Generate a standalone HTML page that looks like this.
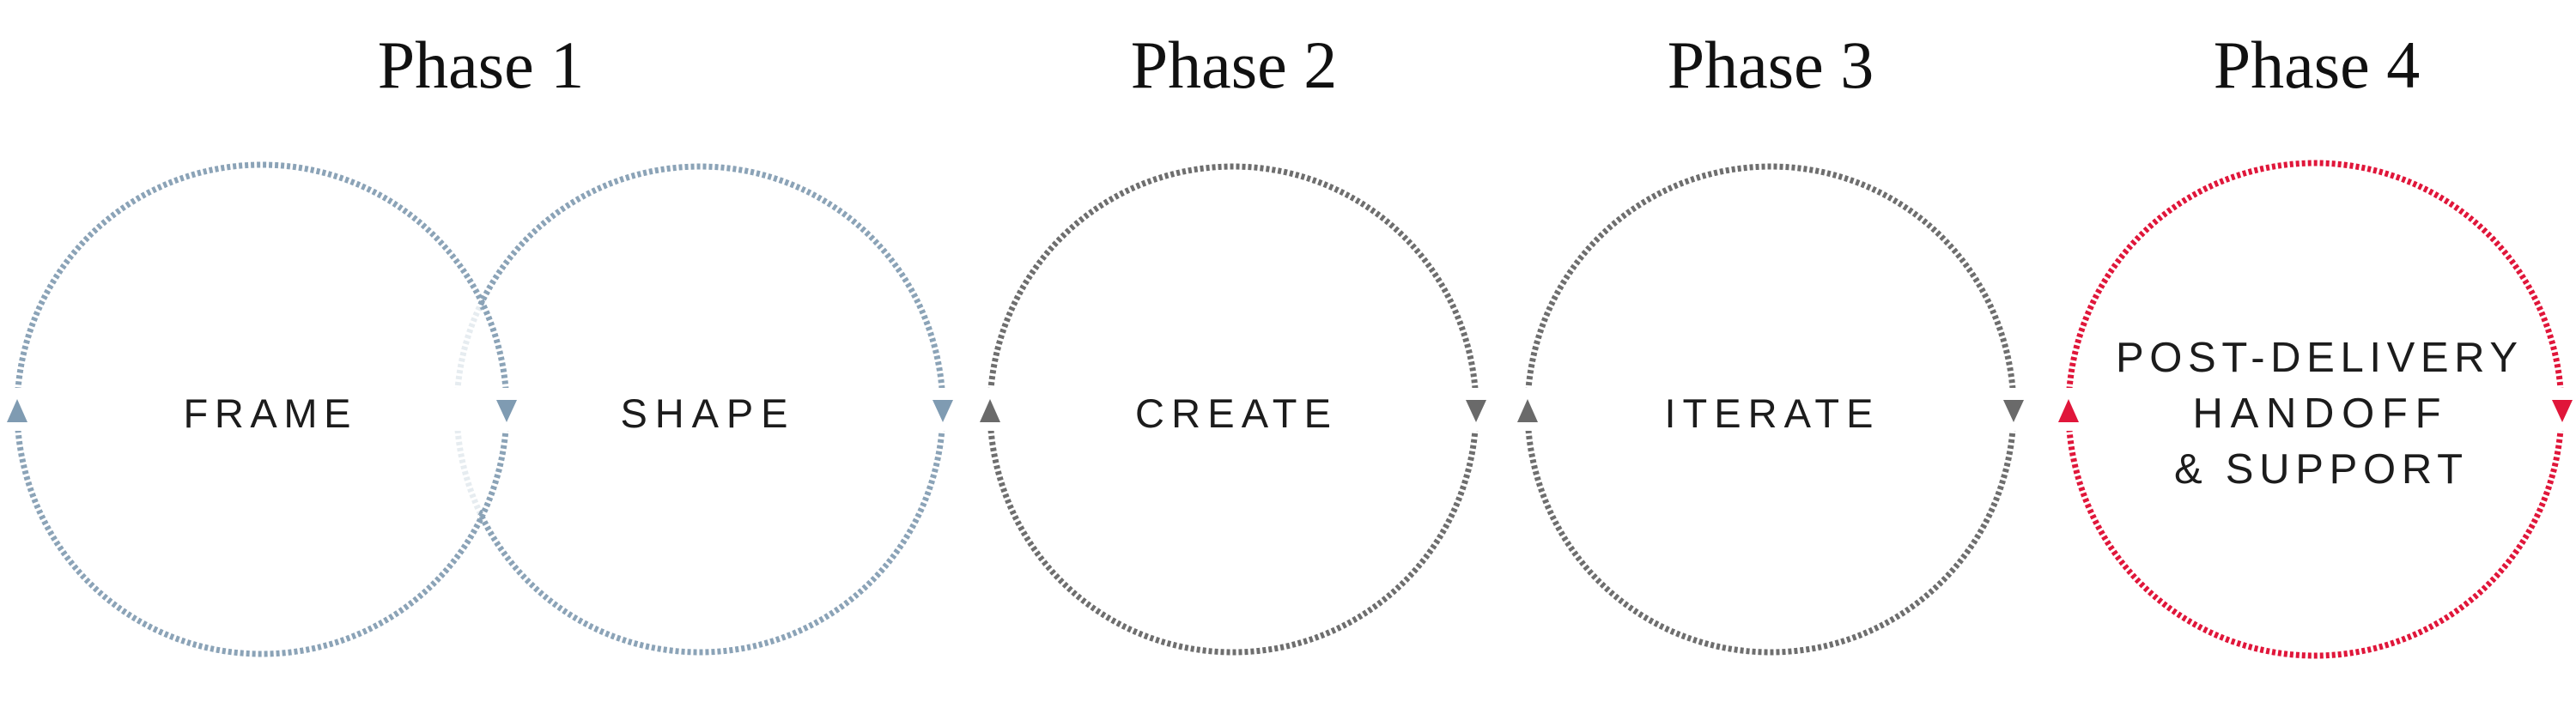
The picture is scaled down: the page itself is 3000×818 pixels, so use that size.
<!DOCTYPE html>
<html><head><meta charset="utf-8"><style>
html,body{margin:0;padding:0;background:#fff;width:3000px;height:818px;overflow:hidden}
svg{display:block}
.t{font-family:"Liberation Serif",serif;font-size:78px;fill:#111;text-anchor:middle}
.l{font-family:"Liberation Sans",sans-serif;font-size:47px;fill:#1c1c1c;text-anchor:middle}
.p{font-family:"Liberation Sans",sans-serif;font-size:49px;fill:#1c1c1c;text-anchor:middle}
</style></head><body>
<svg width="3000" height="818" viewBox="0 0 3000 818" xmlns="http://www.w3.org/2000/svg">
<defs>
<mask id="gaps">
<rect width="3000" height="818" fill="#fff"/>
<rect x="0" y="452" width="3000" height="50" fill="#000"/>
</mask>
<mask id="out1">
<rect width="3000" height="818" fill="#fff"/>
<circle cx="305" cy="477" r="280" fill="#000"/>
</mask>
<mask id="in1">
<circle cx="305" cy="477" r="280" fill="#fff"/>
</mask>
</defs>
<text class="t" x="560" y="102">Phase 1</text>
<text class="t" x="1437" y="102">Phase 2</text>
<text class="t" x="2062" y="102">Phase 3</text>
<text class="t" x="2698" y="102">Phase 4</text>
<g fill="none" stroke-width="7" stroke-dasharray="4 3" mask="url(#gaps)">
<circle cx="305" cy="477" r="285" stroke="#8ba3b7"/>
<g mask="url(#out1)"><circle cx="815" cy="477" r="283" stroke="#8ba3b7"/></g>
<g mask="url(#in1)"><circle cx="815" cy="477" r="283" stroke="#e6ecf0"/></g>
<circle cx="1436" cy="477" r="283" stroke="#6e6e6e"/>
<circle cx="2062" cy="477" r="283" stroke="#6e6e6e"/>
<circle cx="2696" cy="477" r="287" stroke="#e0163a"/>
</g>
<g>
<polygon points="20,465 8,492 32,492" fill="#7f9bb2"/>
<polygon points="578,466 602,466 590,492" fill="#7f9bb2"/>
<polygon points="1086,466 1110,466 1098,492" fill="#7f9bb2"/>
<polygon points="1153,465 1141,492 1165,492" fill="#6a6a6a"/>
<polygon points="1707,466 1731,466 1719,492" fill="#6a6a6a"/>
<polygon points="1779,465 1767,492 1791,492" fill="#6a6a6a"/>
<polygon points="2333,466 2357,466 2345,492" fill="#6a6a6a"/>
<polygon points="2409,465 2397,492 2421,492" fill="#e0163a"/>
<polygon points="2972,466 2996,466 2984,492" fill="#e0163a"/>
</g>
<text class="l" x="311" y="498" textLength="195" lengthAdjust="spacing">FRAME</text>
<text class="l" x="820" y="498" textLength="195" lengthAdjust="spacing">SHAPE</text>
<text class="l" x="1436" y="498" textLength="228" lengthAdjust="spacing">CREATE</text>
<text class="l" x="2060" y="498" textLength="243" lengthAdjust="spacing">ITERATE</text>
<text class="p" x="2698" y="433" textLength="468" lengthAdjust="spacing">POST-DELIVERY</text>
<text class="p" x="2698" y="498" textLength="289" lengthAdjust="spacing">HANDOFF</text>
<text class="p" x="2700" y="563" textLength="336" lengthAdjust="spacing">&amp; SUPPORT</text>
</svg>
</body></html>
